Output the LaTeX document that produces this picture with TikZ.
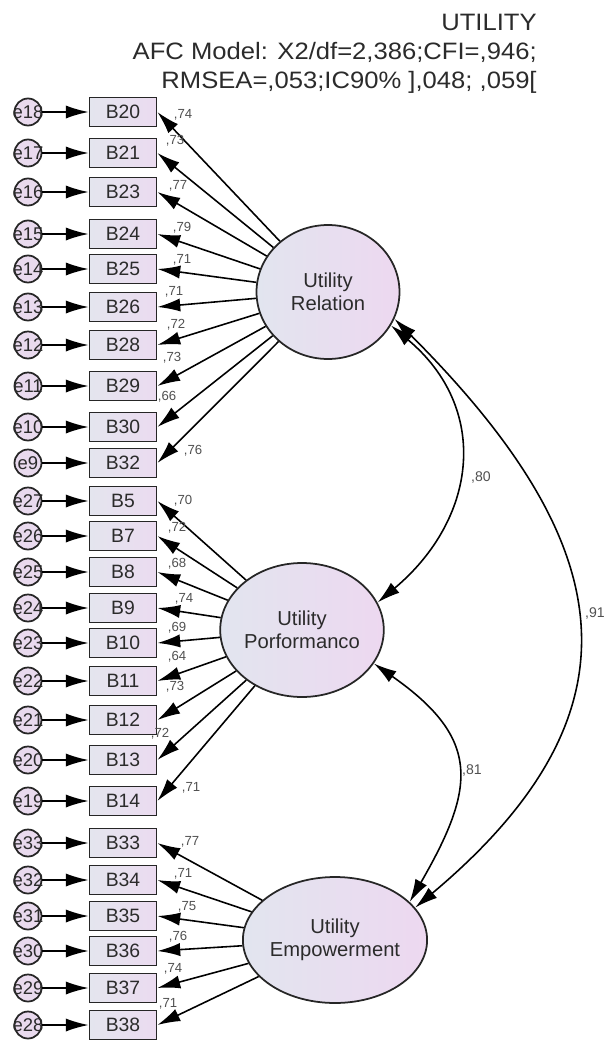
\documentclass[tikz,border=0pt]{standalone}
\usepackage{fontspec}
\setmainfont{Liberation Sans}
\newfontfamily\headfont{Liberation Sans}[FakeStretch=1.08]
\usetikzlibrary{shapes.geometric,arrows.meta}

\definecolor{boxl}{HTML}{E4E5EE}
\definecolor{boxr}{HTML}{EBDBF0}
\definecolor{latl}{HTML}{E2E5EF}
\definecolor{latr}{HTML}{EDD8F0}
\definecolor{errf}{HTML}{E9DAEE}
\definecolor{txt}{HTML}{2B2B2B}
\definecolor{coefc}{HTML}{505050}

\tikzset{
  obs/.style={
    rectangle,
    draw=black!85,
    line width=1pt,
    minimum width=1.34cm,
    minimum height=0.58cm,
    inner sep=0pt,
    left color=boxl,
    right color=boxr,
    text=txt,
    font=\fontsize{11}{12}\selectfont
  },
  err/.style={
    circle,
    draw=black!85,
    line width=1pt,
    minimum size=0.54cm,
    inner sep=0pt,
    fill=errf,
    label={[text=txt, inner sep=0pt, font=\fontsize{10.5}{12}\selectfont]center:#1}
  },
  latent/.style={
    ellipse,
    draw=black!85,
    line width=1pt,
    minimum width=2.86cm,
    minimum height=2.68cm,
    inner sep=0pt,
    align=center,
    left color=latl,
    right color=latr,
    text=txt,
    font=\fontsize{11.5}{13}\selectfont
  },
  coef/.style={
    inner sep=0pt,
    text=coefc,
    font=\fontsize{7.5}{9}\selectfont
  },
  covlab/.style={
    inner sep=0pt,
    text=coefc,
    font=\fontsize{8}{9}\selectfont
  },
  title/.style={
    inner sep=0pt,
    align=right,
    text=txt,
    font=\headfont\fontsize{13.5}{16.5}\selectfont
  },
  load/.style={->, line width=0.9pt},
  cov/.style={<->, line width=0.9pt},
}

\begin{document}
\begin{tikzpicture}[x=0.02cm, y=0.02cm, >={Latex[length=13pt,width=7.5pt]}]
  \useasboundingbox (0,0) rectangle (606,-1041);
  \node[title, anchor=north east] (head) at (537,-14)
    {UTILITY\\AFC Model: X2/df=2,386;CFI=,946;\\RMSEA=,053;IC90\% ],048; ,059[};

  % latent variables
  \node[latent] (rel) at (328,-292) {Utility\\Relation};
  \node[latent, minimum width=2.74cm] (perf) at (302,-630) {Utility\\Porformanco};
  \node[latent, minimum width=2.9cm, minimum height=2.52cm] (emp) at (335,-940) {Utility\\Empowerment};

  % observed variables
  \node[obs] (b20) at (123,-112) {B20};
  \node[obs] (b21) at (123,-153) {B21};
  \node[obs] (b23) at (123,-192) {B23};
  \node[obs] (b24) at (123,-234) {B24};
  \node[obs] (b25) at (123,-269) {B25};
  \node[obs] (b26) at (123,-307) {B26};
  \node[obs] (b28) at (123,-345) {B28};
  \node[obs] (b29) at (123,-386) {B29};
  \node[obs] (b30) at (123,-427) {B30};
  \node[obs] (b32) at (123,-463) {B32};
  \node[obs] (b5) at (123,-501) {B5};
  \node[obs] (b7) at (123,-536) {B7};
  \node[obs] (b8) at (123,-572) {B8};
  \node[obs] (b9) at (123,-608) {B9};
  \node[obs] (b10) at (123,-643) {B10};
  \node[obs] (b11) at (123,-681) {B11};
  \node[obs] (b12) at (123,-720) {B12};
  \node[obs] (b13) at (123,-760) {B13};
  \node[obs] (b14) at (123,-801) {B14};
  \node[obs] (b33) at (123,-843) {B33};
  \node[obs] (b34) at (123,-880) {B34};
  \node[obs] (b35) at (123,-916) {B35};
  \node[obs] (b36) at (123,-951) {B36};
  \node[obs] (b37) at (123,-988) {B37};
  \node[obs] (b38) at (123,-1025) {B38};

  % error terms
  \node[err=e18] (e18) at (28,-112) {};
  \node[err=e17] (e17) at (28,-153) {};
  \node[err=e16] (e16) at (28,-192) {};
  \node[err=e15] (e15) at (28,-234) {};
  \node[err=e14] (e14) at (28,-269) {};
  \node[err=e13] (e13) at (28,-307) {};
  \node[err=e12] (e12) at (28,-345) {};
  \node[err=e11] (e11) at (28,-386) {};
  \node[err=e10] (e10) at (28,-427) {};
  \node[err=e9] (e9) at (28,-463) {};
  \node[err=e27] (e27) at (28,-501) {};
  \node[err=e26] (e26) at (28,-536) {};
  \node[err=e25] (e25) at (28,-572) {};
  \node[err=e24] (e24) at (28,-608) {};
  \node[err=e23] (e23) at (28,-643) {};
  \node[err=e22] (e22) at (28,-681) {};
  \node[err=e21] (e21) at (28,-720) {};
  \node[err=e20] (e20) at (28,-760) {};
  \node[err=e19] (e19) at (28,-801) {};
  \node[err=e33] (e33) at (28,-843) {};
  \node[err=e32] (e32) at (28,-880) {};
  \node[err=e31] (e31) at (28,-916) {};
  \node[err=e30] (e30) at (28,-951) {};
  \node[err=e29] (e29) at (28,-988) {};
  \node[err=e28] (e28) at (28,-1025) {};

  \draw[load] (e18) -- (b20);
  \draw[load] (e17) -- (b21);
  \draw[load] (e16) -- (b23);
  \draw[load] (e15) -- (b24);
  \draw[load] (e14) -- (b25);
  \draw[load] (e13) -- (b26);
  \draw[load] (e12) -- (b28);
  \draw[load] (e11) -- (b29);
  \draw[load] (e10) -- (b30);
  \draw[load] (e9) -- (b32);
  \draw[load] (e27) -- (b5);
  \draw[load] (e26) -- (b7);
  \draw[load] (e25) -- (b8);
  \draw[load] (e24) -- (b9);
  \draw[load] (e23) -- (b10);
  \draw[load] (e22) -- (b11);
  \draw[load] (e21) -- (b12);
  \draw[load] (e20) -- (b13);
  \draw[load] (e19) -- (b14);
  \draw[load] (e33) -- (b33);
  \draw[load] (e32) -- (b34);
  \draw[load] (e31) -- (b35);
  \draw[load] (e30) -- (b36);
  \draw[load] (e29) -- (b37);
  \draw[load] (e28) -- (b38);

  % loadings
  \draw[load] (rel) -- (b20.east);
  \draw[load] (rel) -- (b21.east);
  \draw[load] (rel) -- (b23.east);
  \draw[load] (rel) -- (b24.east);
  \draw[load] (rel) -- (b25.east);
  \draw[load] (rel) -- (b26.east);
  \draw[load] (rel) -- (b28.east);
  \draw[load] (rel) -- (b29.east);
  \draw[load] (rel) -- (b30.east);
  \draw[load] (rel) -- (b32.east);
  \draw[load] (perf) -- (b5.east);
  \draw[load] (perf) -- (b7.east);
  \draw[load] (perf) -- (b8.east);
  \draw[load] (perf) -- (b9.east);
  \draw[load] (perf) -- (b10.east);
  \draw[load] (perf) -- (b11.east);
  \draw[load] (perf) -- (b12.east);
  \draw[load] (perf) -- (b13.east);
  \draw[load] (perf) -- (b14.east);
  \draw[load] (emp) -- (b33.east);
  \draw[load] (emp) -- (b34.east);
  \draw[load] (emp) -- (b35.east);
  \draw[load] (emp) -- (b36.east);
  \draw[load] (emp) -- (b37.east);
  \draw[load] (emp) -- (b38.east);

  \node[coef] at (183,-115) {,74};
  \node[coef] at (175,-141) {,73};
  \node[coef] at (178,-186) {,77};
  \node[coef] at (182,-228) {,79};
  \node[coef] at (182,-260) {,71};
  \node[coef] at (174,-292) {,71};
  \node[coef] at (176,-325) {,72};
  \node[coef] at (172,-358) {,73};
  \node[coef] at (167,-397) {,66};
  \node[coef] at (193,-451) {,76};
  \node[coef] at (183,-501) {,70};
  \node[coef] at (177,-528) {,72};
  \node[coef] at (177,-564) {,68};
  \node[coef] at (184,-599) {,74};
  \node[coef] at (177,-628) {,69};
  \node[coef] at (177,-657) {,64};
  \node[coef] at (175,-687) {,73};
  \node[coef] at (160,-734) {,72};
  \node[coef] at (191,-788) {,71};
  \node[coef] at (190,-842) {,77};
  \node[coef] at (183,-874) {,71};
  \node[coef] at (187,-907) {,75};
  \node[coef] at (178,-937) {,76};
  \node[coef] at (173,-969) {,74};
  \node[coef] at (168,-1004) {,71};

  % covariances
  \draw[cov] (rel.-28) to[out=-40, in=40, looseness=1.2] (perf.20);
  \draw[cov] (perf.-25) to[out=-35, in=60, looseness=1.4] (emp.27);
  \draw[cov] (rel.-22) to[out=-45, in=40, looseness=1.35] (emp.22);
  \node[covlab] at (481,-477) {,80};
  \node[covlab] at (472,-770) {,81};
  \node[covlab] at (595,-613) {,91};
\end{tikzpicture}
\end{document}
